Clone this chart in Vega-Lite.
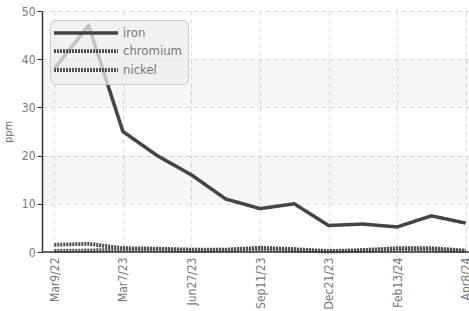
{
  "$schema": "https://vega.github.io/schema/vega-lite/v6.json",
  "width": 436,
  "height": 241,
  "autosize": {"type": "none"},
  "padding": {"left": 42, "top": 11, "right": 0, "bottom": 59},
  "background": "white",
  "config": {
    "view": {"stroke": null},
    "font": "DejaVu Sans Condensed",
    "axis": {"labelFont": "DejaVu Sans Condensed", "titleFont": "DejaVu Sans Condensed", "labelColor": "#777", "titleColor": "#666", "gridColor": "#d8d8d8", "gridDash": [4, 4], "domainColor": "#333", "tickColor": "#333"},
    "legend": {"labelFont": "DejaVu Sans Condensed"}
  },
  "datasets": {
    "bands": [{"lo": 10, "hi": 20}, {"lo": 30, "hi": 40}],
    "m": [
      {"date": "Mar9/22", "i": 0, "iron": 38, "chromium": 1.5, "nickel": 0.2},
      {"date": "Oct12/22", "i": 1, "iron": 47, "chromium": 1.7, "nickel": 0.3},
      {"date": "Mar7/23", "i": 2, "iron": 25, "chromium": 0.8, "nickel": 0.5},
      {"date": "May2/23", "i": 3, "iron": 20, "chromium": 0.7, "nickel": 0.5},
      {"date": "Jun27/23", "i": 4, "iron": 16, "chromium": 0.5, "nickel": 0.3},
      {"date": "Aug1/23", "i": 5, "iron": 11, "chromium": 0.5, "nickel": 0.4},
      {"date": "Sep11/23", "i": 6, "iron": 9, "chromium": 0.9, "nickel": 0.6},
      {"date": "Oct30/23", "i": 7, "iron": 10, "chromium": 0.6, "nickel": 0.4},
      {"date": "Dec21/23", "i": 8, "iron": 5.5, "chromium": 0.2, "nickel": 0.1},
      {"date": "Jan15/24", "i": 9, "iron": 5.8, "chromium": 0.4, "nickel": 0.3},
      {"date": "Feb13/24", "i": 10, "iron": 5.2, "chromium": 0.8, "nickel": 0.6},
      {"date": "Mar11/24", "i": 11, "iron": 7.5, "chromium": 0.8, "nickel": 0.5},
      {"date": "Apr8/24", "i": 12, "iron": 6, "chromium": 0.3, "nickel": 0.2}
    ]
  },
  "encoding": {
    "y": {"type": "quantitative", "scale": {"domain": [0, 50]},
      "axis": {"title": "ppm", "titleFontSize": 11, "titleFontWeight": "normal", "labelFontSize": 12, "values": [0, 10, 20, 30, 40, 50], "labelOverlap": false, "tickSize": 5, "grid": true, "domainWidth": 1.5, "titlePadding": 8}}
  },
  "layer": [
    {
      "data": {"name": "bands"},
      "mark": {"type": "rect", "color": "#000", "opacity": 0.035},
      "encoding": {
        "y": {"field": "lo", "type": "quantitative"},
        "y2": {"field": "hi"}
      }
    },
    {
      "data": {"name": "m"},
      "transform": [{"fold": ["iron", "chromium", "nickel"], "as": ["metal", "ppm"]}],
      "mark": {"type": "line", "strokeCap": "butt", "strokeJoin": "round"},
      "encoding": {
        "x": {"field": "date", "type": "ordinal", "sort": {"field": "i"}, "scale": {"type": "point", "padding": 0.36},
          "axis": {"title": null, "labelAngle": -90, "labelFontSize": 12, "labelColor": "#777", "labelPadding": 5, "ticks": false, "domain": false, "grid": true,
            "values": ["Mar9/22", "Mar7/23", "Jun27/23", "Sep11/23", "Dec21/23", "Feb13/24", "Apr8/24"]}},
        "y": {"field": "ppm", "type": "quantitative"},
        "color": {"field": "metal", "type": "nominal", "scale": {"domain": ["iron", "chromium", "nickel"], "range": ["#444444", "#4a4a4a", "#555555"]},
          "legend": {"title": null, "orient": "none", "legendX": 8, "legendY": 9, "zindex": 1, "symbolType": "M-1.8,0H11", "symbolSize": 100, "labelFontSize": 13, "labelColor": "#777", "rowPadding": 3, "fillColor": "rgba(236,236,236,0.75)", "strokeColor": "#ccc", "cornerRadius": 5, "padding": 6, "labelOffset": 53}},
        "strokeDash": {"field": "metal", "type": "nominal", "scale": {"domain": ["iron", "chromium", "nickel"], "range": [[1, 0], [2, 1], [2, 1]]}, "legend": null},
        "strokeWidth": {"field": "metal", "type": "nominal", "scale": {"domain": ["iron", "chromium", "nickel"], "range": [3.5, 4, 2.5]}, "legend": null}
      }
    },
    {
      "data": {"values": [{"z": 0}]},
      "mark": {"type": "rule", "color": "#333", "strokeWidth": 1.5},
      "encoding": {"y": {"field": "z", "type": "quantitative"}}
    }
  ]
}
